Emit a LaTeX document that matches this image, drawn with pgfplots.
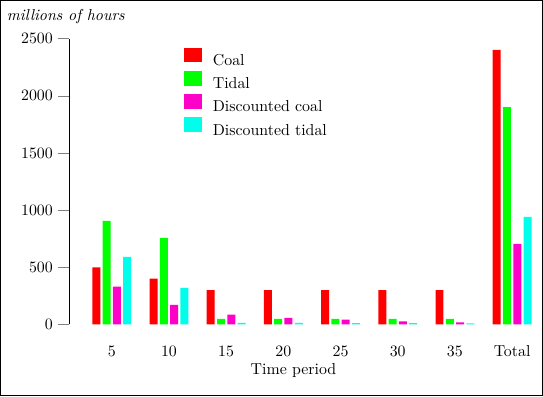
\documentclass[border=0pt]{standalone}
\usepackage{pgfplots}
\pgfplotsset{compat=1.18}
\definecolor{ccoal}{RGB}{255,0,0}
\definecolor{ctidal}{RGB}{0,255,0}
\definecolor{cdcoal}{RGB}{255,0,200}
\definecolor{cdtidal}{RGB}{0,255,235}
\begin{document}
\begin{tikzpicture}
\draw[line width=0.7pt] (0,0) rectangle (341.5pt,249.1pt);
\begin{axis}[
  at={(43.4pt,44.97pt)}, anchor=south west,
  scale only axis, width=293.4pt, height=180.2pt,
  xmin=-0.74, xmax=7.4, ymin=0, ymax=2500,
  clip=false,
  axis y line*=left, axis x line*=bottom,
  x axis line style={draw=none},
  xtick=data, xticklabels={5,10,15,20,25,30,35,Total},
  xtick style={draw=none},
  xticklabel style={anchor=base, yshift=-13.5pt},
  ytick={0,500,1000,1500,2000,2500},
  tick align=outside, major tick length=6.9pt,
  /pgf/number format/1000 sep={},
  ybar=1.45pt, bar width=5.03pt,
  legend cell align=left,
  legend image code/.code={\fill[#1,draw=none] (0pt,-0.6pt) rectangle (11.3pt,8.8pt);\path (16.1pt,0pt);},
  legend style={draw=none, fill=none, at={(0.2464,0.9685)}, anchor=north west,
    inner sep=0pt, outer sep=0pt, row sep=-0.5pt},
]
\addplot[fill=ccoal, draw=none] coordinates {(0,500) (1,400) (2,300) (3,300) (4,300) (5,300) (6,300) (7,2400)};
\addplot[fill=ctidal, draw=none] coordinates {(0,905) (1,758) (2,50) (3,50) (4,50) (5,50) (6,50) (7,1900)};
\addplot[fill=cdcoal, draw=none] coordinates {(0,330) (1,172) (2,85) (3,58) (4,42) (5,27) (6,19) (7,705)};
\addplot[fill=cdtidal, draw=none] coordinates {(0,592) (1,320) (2,15) (3,14) (4,12) (5,11) (6,10) (7,940)};
\legend{Coal, Tidal, Discounted coal, Discounted tidal}
\end{axis}
\node[anchor=base] at (184.6pt,13.5pt) {Time period};
\node[anchor=base west, inner sep=0pt] at (3.8pt,236.8pt) {\itshape millions of hours};
\end{tikzpicture}
\end{document}
